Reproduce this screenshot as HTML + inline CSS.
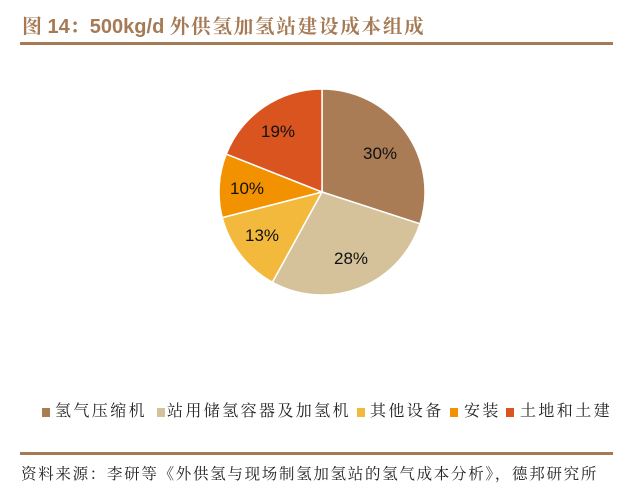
<!DOCTYPE html>
<html><head><meta charset="utf-8"><style>
body{margin:0;width:640px;height:490px;background:#fff;position:relative;overflow:hidden;font-family:"Liberation Sans","Noto Sans CJK SC",sans-serif}
.t{position:absolute;left:22px;top:10px;font-size:20px;font-weight:bold;color:#A57A55;white-space:nowrap;font-family:"Liberation Sans","Noto Serif CJK SC",serif}
.t span{letter-spacing:1.8px;font-size:19.5px}
.l1{position:absolute;left:20px;top:42px;width:593px;height:3px;background:#A57A55}
.l2{position:absolute;left:20px;top:452px;width:593px;height:3px;background:#A57A55}
.lg{position:absolute;top:400px;font-size:16px;line-height:24px;color:#222;white-space:nowrap;letter-spacing:2.4px;font-family:"Liberation Serif","Noto Serif CJK SC",serif}
.sq{position:absolute;top:408px;width:8px;height:9px}
.f{position:absolute;left:21px;top:463px;font-size:15.5px;line-height:24px;color:#222;white-space:nowrap;letter-spacing:1.7px;font-family:"Liberation Serif","Noto Serif CJK SC",serif}
</style></head><body>
<div class="t">图 14：500kg/d <span>外供氢加氢站建设成本组成</span></div>
<div class="l1"></div>
<svg style="position:absolute;left:0;top:0" width="640" height="490">
<g stroke="#fff" stroke-width="1.5">
<path d="M322,192 L322,89 A103,103 0 0 1 419.96,223.83 Z" fill="#A97C55"/>
<path d="M322,192 L419.96,223.83 A103,103 0 0 1 272.38,282.26 Z" fill="#D5C29A"/>
<path d="M322,192 L272.38,282.26 A103,103 0 0 1 222.23,217.62 Z" fill="#F3B93C"/>
<path d="M322,192 L222.23,217.62 A103,103 0 0 1 226.23,154.09 Z" fill="#F39200"/>
<path d="M322,192 L226.23,154.09 A103,103 0 0 1 322,89 Z" fill="#D9541E"/>
</g>
<g font-family="Liberation Sans,sans-serif" font-size="17" fill="#111" text-anchor="middle">
<text x="380" y="159">30%</text>
<text x="351" y="264">28%</text>
<text x="262" y="241">13%</text>
<text x="247" y="194">10%</text>
<text x="278" y="137">19%</text>
</g>
</svg>
<div class="sq" style="left:42px;background:#A97C55"></div><div class="lg" style="left:55px">氢气压缩机</div>
<div class="sq" style="left:157px;background:#D5C29A"></div><div class="lg" style="left:167px">站用储氢容器及加氢机</div>
<div class="sq" style="left:357px;background:#F3B93C"></div><div class="lg" style="left:370px">其他设备</div>
<div class="sq" style="left:450px;background:#F39200"></div><div class="lg" style="left:464px">安装</div>
<div class="sq" style="left:506px;background:#D9541E"></div><div class="lg" style="left:520px">土地和土建</div>
<div class="l2"></div>
<div class="f">资料来源：李研等《外供氢与现场制氢加氢站的氢气成本分析》，德邦研究所</div>
</body></html>
